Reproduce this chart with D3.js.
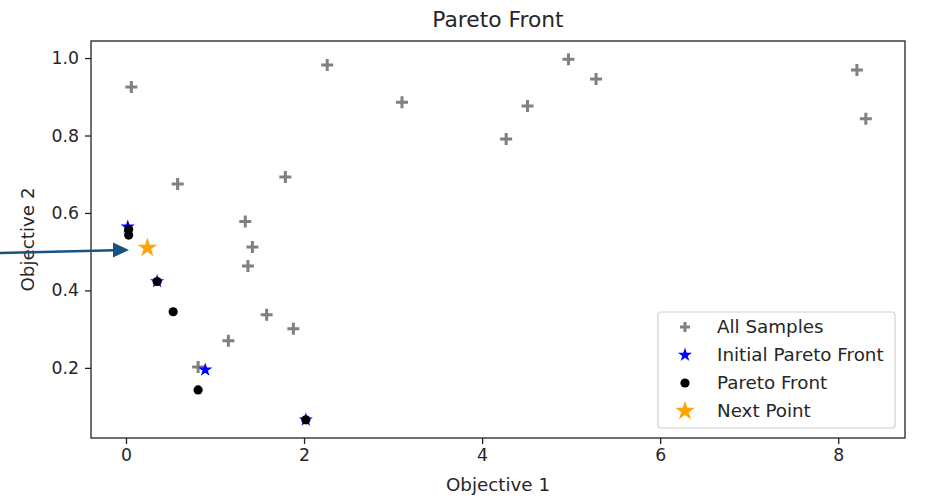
<!DOCTYPE html>
<html>
<head>
<meta charset="utf-8">
<script src="https://cdn.jsdelivr.net/npm/d3@7"></script>
<style>
  html, body { margin: 0; padding: 0; background: #fff; }
  text { font-family: "DejaVu Sans", sans-serif; fill: #262626; }
</style>
</head>
<body>
<svg id="chart" width="931" height="496"></svg>
<script>
// ---- data ----
const sampleX = [0.06, 0.58, 1.34, 1.42, 1.37, 1.79, 1.58, 1.88, 1.15, 0.81, 2.26, 3.10, 4.27, 4.51, 4.97, 5.28, 8.21, 8.31];
const sampleY = [0.925, 0.675, 0.578, 0.512, 0.463, 0.693, 0.337, 0.301, 0.270, 0.202, 0.982, 0.886, 0.791, 0.876, 0.997, 0.946, 0.969, 0.843];

const initialX = [0.02, 0.35, 0.89, 2.02];
const initialY = [0.564, 0.423, 0.195, 0.066];

const paretoX = [0.03, 0.03, 0.35, 0.53, 0.81, 2.02];
const paretoY = [0.558, 0.543, 0.423, 0.345, 0.143, 0.066];

const nextX = [0.24];
const nextY = [0.510];

const xTicks = [0, 2, 4, 6, 8];
const yTicks = [0.2, 0.4, 0.6, 0.8, 1.0];
const legendLabels = ["All Samples", "Initial Pareto Front", "Pareto Front", "Next Point"];

// ---- layout ----
const svg = d3.select("#chart");
const L = 91, R = 905, T = 41, B = 438;
const x = d3.scaleLinear().domain([-0.393, 8.75]).range([L, R]);
const y = d3.scaleLinear().domain([0.019, 1.044]).range([B, T]);

// axes
const xAxis = d3.axisBottom(x).tickValues(xTicks).tickFormat(d3.format("d")).tickSize(6).tickPadding(5);
const yAxis = d3.axisLeft(y).tickValues(yTicks).tickFormat(d3.format(".1f")).tickSize(6).tickPadding(6);

const gx = svg.append("g").attr("transform", `translate(0,${B})`).call(xAxis);
const gy = svg.append("g").attr("transform", `translate(${L},0)`).call(yAxis);
[gx, gy].forEach(g => {
  g.select(".domain").remove();
  g.selectAll(".tick line").attr("stroke", "#222").attr("stroke-width", 1.3);
  g.selectAll(".tick text").attr("font-size", 17.3).attr("fill", "#262626").style("font-family", "DejaVu Sans, sans-serif");
});

// frame
svg.append("rect").attr("x", L).attr("y", T).attr("width", R - L).attr("height", B - T)
  .attr("fill", "none").attr("stroke", "#222").attr("stroke-width", 1.3);

// titles
svg.append("text").attr("x", (L + R) / 2).attr("y", 27).attr("text-anchor", "middle")
  .attr("font-size", 21.8).text("Pareto Front");
svg.append("text").attr("x", (L + R) / 2).attr("y", 491).attr("text-anchor", "middle")
  .attr("font-size", 18.3).text("Objective 1");
svg.append("text").attr("transform", `translate(34,${(T + B) / 2}) rotate(-90)`).attr("text-anchor", "middle")
  .attr("font-size", 18.3).text("Objective 2");

// marker helpers
const plusPath = (s) => `M${-s},0H${s}M0,${-s}V${s}`;
const starSmall = d3.symbol().type(d3.symbolStar).size(62)();
const starBig = d3.symbol().type(d3.symbolStar).size(120)();

const plot = svg.append("g");

// All samples
plot.selectAll("path.sample").data(d3.range(sampleX.length)).join("path")
  .attr("class", "sample")
  .attr("transform", i => `translate(${x(sampleX[i])},${y(sampleY[i])})`)
  .attr("d", plusPath(6)).attr("stroke", "#808080").attr("stroke-width", 3).attr("fill", "none");

// Initial Pareto Front
plot.selectAll("path.init").data(d3.range(initialX.length)).join("path")
  .attr("class", "init")
  .attr("transform", i => `translate(${x(initialX[i])},${y(initialY[i])})`)
  .attr("d", starSmall).attr("fill", "#0000ff");

// Pareto Front
plot.selectAll("circle.pf").data(d3.range(paretoX.length)).join("circle")
  .attr("class", "pf")
  .attr("cx", i => x(paretoX[i])).attr("cy", i => y(paretoY[i])).attr("r", 4.6).attr("fill", "#000");

// Next point
plot.selectAll("path.next").data(d3.range(nextX.length)).join("path")
  .attr("class", "next")
  .attr("transform", i => `translate(${x(nextX[i])},${y(nextY[i])})`)
  .attr("d", starBig).attr("fill", "#ffa500");

// legend
const lg = svg.append("g");
lg.append("rect").attr("x", 658).attr("y", 312).attr("width", 237).attr("height", 116)
  .attr("rx", 3).attr("fill", "#fff").attr("fill-opacity", 0.8).attr("stroke", "#d0d0d0").attr("stroke-width", 1.2);
legendLabels.forEach((lab, i) => {
  const cy = 327 + i * 28;
  const g = lg.append("g").attr("transform", `translate(685,${cy})`);
  if (i === 0) g.append("path").attr("d", plusPath(5)).attr("stroke", "#808080").attr("stroke-width", 3);
  if (i === 1) g.append("path").attr("d", starSmall).attr("fill", "#0000ff");
  if (i === 2) g.append("circle").attr("r", 4.6).attr("fill", "#000");
  if (i === 3) g.append("path").attr("d", starBig).attr("fill", "#ffa500");
  lg.append("text").attr("x", 717).attr("y", cy + 6).attr("font-size", 18.3).text(lab);
});

// annotation arrow
const ann = svg.append("g");
ann.append("line").attr("x1", 0).attr("y1", 253).attr("x2", 115).attr("y2", 250.3)
  .attr("stroke", "#16537e").attr("stroke-width", 2.6);
ann.append("path").attr("d", "M113,242.5L129,250L113,257.5Z").attr("fill", "#16537e");
</script>
</body>
</html>
